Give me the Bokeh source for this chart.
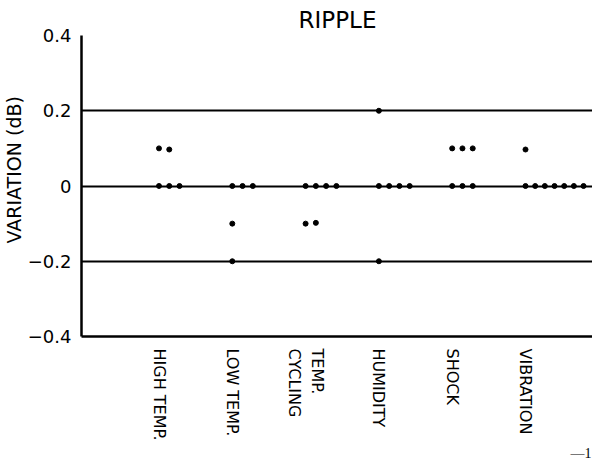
import math
from bokeh.plotting import figure
from bokeh.models import Range1d, FixedTicker, Title, ColumnDataSource
from bokeh.embed import file_html
from bokeh.resources import INLINE

# ---- data -----------------------------------------------------------------
categories = ["HIGH TEMP.", "LOW TEMP.", "TEMP.\nCYCLING", "HUMIDITY", "SHOCK", "VIBRATION"]

# each category: list of measurement slots, each slot holds the values measured there (dB)
high_temp = [[0.1, 0.0], [0.097, 0.0], [0.0]]
low_temp = [[0.0, -0.1, -0.2], [0.0], [0.0]]
temp_cycling = [[0.0, -0.1], [0.0, -0.098], [0.0], [0.0]]
humidity = [[0.2, 0.0, -0.2], [0.0], [0.0], [0.0]]
shock = [[0.1, 0.0], [0.1, 0.0], [0.1, 0.0]]
vibration = [[0.097, 0.0], [0.0], [0.0], [0.0], [0.0], [0.0], [0.0]]

series = [high_temp, low_temp, temp_cycling, humidity, shock, vibration]

y_ticks = [0.4, 0.2, 0.0, -0.2, -0.4]
y_tick_labels = ["0.4", "0.2", "0", "\u22120.2", "\u22120.4"]
grid_levels = [0.4, 0.2, 0.0, -0.2]

title_text = "RIPPLE"
y_label = "VARIATION (dB)"
page_mark = "\u20141"

# ---- layout constants ------------------------------------------------------
TOP = 35
FRAME_W, FRAME_H = 512, 301
PX_PER_CAT = 73.3
X0 = -77.5 / PX_PER_CAT
X1 = X0 + FRAME_W / PX_PER_CAT
SLOT = 0.14

xs, ys = [], []
for ci, slots in enumerate(series):
    step = SLOT if len(slots) < 7 else 0.132
    for si, vals in enumerate(slots):
        for v in vals:
            xs.append(ci + si * step)
            ys.append(v)

src = ColumnDataSource(dict(x=xs, y=ys))

p = figure(frame_width=FRAME_W, frame_height=FRAME_H, output_backend="svg", toolbar_location=None,
           x_range=Range1d(X0, X1), y_range=Range1d(-0.4, 0.4),
           min_border_left=0, min_border_top=TOP, min_border_right=0,
           min_border_bottom=0, title=None)

p.outline_line_color = None
p.background_fill_color = "white"
p.border_fill_color = "white"

p.scatter("x", "y", source=src, size=5, color="black")

# axes
p.xaxis.ticker = FixedTicker(ticks=list(range(len(categories))))
p.xaxis.major_label_overrides = {i: c for i, c in enumerate(categories)}
p.xaxis.major_label_orientation = -math.pi / 2
p.xaxis.major_tick_line_color = None
p.xaxis.minor_tick_line_color = None
p.xaxis.axis_line_color = "black"
p.xaxis.axis_line_width = 2.5
p.xaxis.major_label_text_font = "DejaVu Sans"
p.xaxis.major_label_text_font_size = "16px"
p.xaxis.major_label_text_color = "black"
p.xaxis.major_label_standoff = 6

p.yaxis.ticker = FixedTicker(ticks=y_ticks)
p.yaxis.major_label_overrides = {t: l for t, l in zip(y_ticks, y_tick_labels)}
p.yaxis.major_tick_line_color = None
p.yaxis.minor_tick_line_color = None
p.yaxis.axis_line_color = "black"
p.yaxis.axis_line_width = 2.5
p.yaxis.major_label_text_font = "DejaVu Sans"
p.yaxis.major_label_text_font_size = "18px"
p.yaxis.major_label_text_color = "black"
p.yaxis.major_label_standoff = 4

p.xgrid.grid_line_color = None
p.ygrid.ticker = FixedTicker(ticks=grid_levels)
p.ygrid.grid_line_color = "black"
p.ygrid.grid_line_width = 1.8

# titles
p.add_layout(Title(text=title_text, align="center", text_font="DejaVu Sans",
                   text_font_size="23px", text_font_style="normal", text_color="black",
                   standoff=6), "above")
p.add_layout(Title(text=y_label, align="left", text_font="DejaVu Sans",
                   text_font_size="19px", text_font_style="normal", text_color="black",
                   offset=93, standoff=0), "left")
p.add_layout(Title(text=page_mark, align="left", text_font="Liberation Serif",
                   text_font_size="14px", text_font_style="normal", text_color="black",
                   offset=489, standoff=0), "below")

open("out.html", "w").write(file_html(p, INLINE))
